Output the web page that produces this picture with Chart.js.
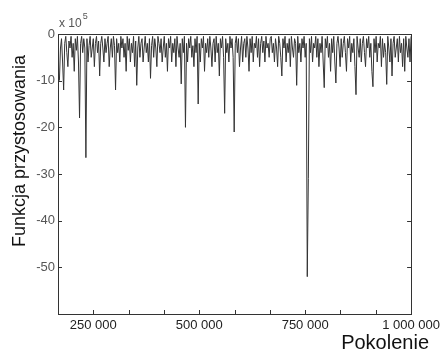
<!DOCTYPE html>
<html>
<head>
<meta charset="utf-8">
<script src="https://cdn.jsdelivr.net/npm/chart.js@4.4.0/dist/chart.umd.min.js"></script>
<style>
  html, body { margin: 0; padding: 0; background: #fff; }
  #wrap { width: 444px; height: 351px; }
</style>
</head>
<body>
<div id="wrap"><canvas id="fitnessChart" width="444" height="351"></canvas></div>
<script>
// generations (in thousands)
const generations = [
  170, 172.5, 175, 177.5, 180, 182.5, 185, 187.5, 190, 192.5, 195, 197.5, 200, 202.5, 205, 207.5, 210, 212.5, 215, 217.5,
  220, 222.5, 225, 227.5, 230, 232.5, 235, 237.5, 240, 242.5, 245, 247.5, 250, 252.5, 255, 257.5, 260, 262.5, 265, 267.5,
  270, 272.5, 275, 277.5, 280, 282.5, 285, 287.5, 290, 292.5, 295, 297.5, 300, 302.5, 305, 307.5, 310, 312.5, 315, 317.5,
  320, 322.5, 325, 327.5, 330, 332.5, 335, 337.5, 340, 342.5, 345, 347.5, 350, 352.5, 355, 357.5, 360, 362.5, 365, 367.5,
  370, 372.5, 375, 377.5, 380, 382.5, 385, 387.5, 390, 392.5, 395, 397.5, 400, 402.5, 405, 407.5, 410, 412.5, 415, 417.5,
  420, 422.5, 425, 427.5, 430, 432.5, 435, 437.5, 440, 442.5, 445, 447.5, 450, 452.5, 455, 457.5, 460, 462.5, 465, 467.5,
  470, 472.5, 475, 477.5, 480, 482.5, 485, 487.5, 490, 492.5, 495, 497.5, 500, 502.5, 505, 507.5, 510, 512.5, 515, 517.5,
  520, 522.5, 525, 527.5, 530, 532.5, 535, 537.5, 540, 542.5, 545, 547.5, 550, 552.5, 555, 557.5, 560, 562.5, 565, 567.5,
  570, 572.5, 575, 577.5, 580, 582.5, 585, 587.5, 590, 592.5, 595, 597.5, 600, 602.5, 605, 607.5, 610, 612.5, 615, 617.5,
  620, 622.5, 625, 627.5, 630, 632.5, 635, 637.5, 640, 642.5, 645, 647.5, 650, 652.5, 655, 657.5, 660, 662.5, 665, 667.5,
  670, 672.5, 675, 677.5, 680, 682.5, 685, 687.5, 690, 692.5, 695, 697.5, 700, 702.5, 705, 707.5, 710, 712.5, 715, 717.5,
  720, 722.5, 725, 727.5, 730, 732.5, 735, 737.5, 740, 742.5, 745, 747.5, 750, 752.5, 755, 757.5, 760, 762.5, 765, 767.5,
  770, 772.5, 775, 777.5, 780, 782.5, 785, 787.5, 790, 792.5, 795, 797.5, 800, 802.5, 805, 807.5, 810, 812.5, 815, 817.5,
  820, 822.5, 825, 827.5, 830, 832.5, 835, 837.5, 840, 842.5, 845, 847.5, 850, 852.5, 855, 857.5, 860, 862.5, 865, 867.5,
  870, 872.5, 875, 877.5, 880, 882.5, 885, 887.5, 890, 892.5, 895, 897.5, 900, 902.5, 905, 907.5, 910, 912.5, 915, 917.5,
  920, 922.5, 925, 927.5, 930, 932.5, 935, 937.5, 940, 942.5, 945, 947.5, 950, 952.5, 955, 957.5, 960, 962.5, 965, 967.5,
  970, 972.5, 975, 977.5, 980, 982.5, 985, 987.5, 990, 992.5, 995, 997.5, 1000
];

// fitness (x 10^5)
const fitness = [
  -10, -3, -1, -6, -12, -2, -0.5, -4, -7, -1.5, -3, -0.5, -5, -2, -8, -1, -3.5, -0.5, -6, -18,
  -2, -0.5, -4, -1, -3, -26.5, -1, -6, -2.5, -0.5, -5, -3, -1, -7, -2, -0.5, -4, -1.5, -9, -2,
  -0.5, -3, -6, -1, -4, -2, -0.5, -7, -3, -1, -5, -0.5, -2.5, -12, -1, -4, -2, -6, -0.5, -3,
  -1, -5, -2, -8, -0.5, -3.5, -1, -6, -2, -4, -0.5, -7, -1.5, -11, -3, -0.5, -5, -2, -1, -6,
  -3, -0.5, -4, -2, -6, -1, -9.5, -2.5, -0.5, -5, -1, -3, -7, -0.5, -2, -4, -1, -6, -3, -0.5,
  -5, -2, -8, -1, -3, -0.5, -6, -2, -4, -1, -7, -0.5, -3, -5, -2, -10.7, -1, -4, -0.5, -20,
  -2, -6, -1, -3, -0.5, -5, -2.5, -7, -1, -4, -0.5, -15, -2, -6, -1, -3, -0.5, -8, -2, -4,
  -1, -5, -0.5, -3, -7, -2, -1, -6, -0.5, -4, -2, -9, -1, -3, -0.5, -5, -17, -1, -4, -2,
  -6, -0.5, -3, -1, -5, -21, -2, -0.5, -4, -1, -7, -3, -0.5, -6, -2, -1, -5, -0.5, -3, -8,
  -1, -4, -0.5, -6, -2, -3, -0.5, -5, -1, -7, -2, -0.5, -4, -1.5, -6, -0.5, -3, -2, -5, -1,
  -0.5, -4, -2, -6, -1, -3, -7, -0.5, -2, -5, -9, -1, -3, -0.5, -6, -2, -4, -1, -7, -0.5,
  -3, -5, -1, -2, -11, -0.5, -4, -2, -6, -1, -3, -0.5, -5, -2, -52, -31, -1, -4, -0.5, -6,
  -2, -3, -0.5, -5, -1, -7, -2, -4, -0.5, -6, -11.5, -1, -3, -0.5, -5, -2, -8, -1, -4, -0.5,
  -6, -10.5, -2, -0.5, -3, -7, -1, -5, -2, -0.5, -4, -8, -1, -3, -0.5, -6, -2, -4, -1, -7,
  -13, -0.5, -3, -5, -1, -6, -2, -0.5, -4, -7, -1, -3, -0.5, -5, -2, -8, -11.3, -1, -4, -0.5,
  -6, -2, -3, -0.5, -7, -1, -5, -2, -4, -10.8, -0.5, -3, -6, -1, -9, -2, -0.5, -5, -3, -1,
  -6, -0.5, -4, -2, -7, -1, -8, -0.5, -3, -5, -1, -6, -0.5
];

const xTickValues = [250, 500, 750, 1000];
const xTickLabels = ['250 000', '500 000', '750 000', '1 000 000'];
const yTickValues = [0, -10, -20, -30, -40, -50, -60];
const yTickLabels = ['0', '-10', '-20', '-30', '-40', '-50', ''];

const xMin = 1000 / 6;
const xMax = 1000;
const xStep = 250 / 3;

const FONT = 'Arial, "Liberation Sans", sans-serif';

const framePlugin = {
  id: 'frame',
  afterDraw(chart) {
    const ctx = chart.ctx;
    const area = chart.chartArea;
    const xs = chart.scales.x;
    const ys = chart.scales.y;
    ctx.save();
    ctx.strokeStyle = '#333';
    ctx.lineWidth = 1;
    ctx.strokeRect(Math.round(area.left) + 0.5, Math.round(area.top) + 0.5,
      Math.round(area.right - area.left), Math.round(area.bottom - area.top));

    // inward tick marks
    ctx.beginPath();
    xs.ticks.forEach(t => {
      const px = Math.round(xs.getPixelForValue(t.value)) + 0.5;
      ctx.moveTo(px, area.bottom);
      ctx.lineTo(px, area.bottom - 4);
    });
    ys.ticks.forEach(t => {
      const py = Math.round(ys.getPixelForValue(t.value)) + 0.5;
      ctx.moveTo(area.left, py);
      ctx.lineTo(area.left + 4, py);
      ctx.moveTo(area.right, py);
      ctx.lineTo(area.right - 4, py);
    });
    ctx.stroke();

    // exponent label
    ctx.fillStyle = '#555';
    ctx.textBaseline = 'alphabetic';
    ctx.textAlign = 'left';
    ctx.font = '12px ' + FONT;
    ctx.fillText('x 10', area.left + 1, 27);
    const w = ctx.measureText('x 10').width;
    ctx.font = '9px ' + FONT;
    ctx.fillText('5', area.left + 2 + w, 19);

    // axis titles
    ctx.fillStyle = '#111';
    ctx.font = '18px ' + FONT;
    ctx.save();
    ctx.translate(20, 151);
    ctx.rotate(-Math.PI / 2);
    ctx.textAlign = 'center';
    ctx.textBaseline = 'middle';
    ctx.fillText('Funkcja przystosowania', 0, 0);
    ctx.restore();

    ctx.font = '20px ' + FONT;
    ctx.textAlign = 'right';
    ctx.textBaseline = 'middle';
    ctx.fillText('Pokolenie', 429, 343);
    ctx.restore();
  }
};

new Chart(document.getElementById('fitnessChart').getContext('2d'), {
  type: 'line',
  data: {
    datasets: [{
      data: generations.map((g, i) => ({ x: g, y: fitness[i] })),
      borderColor: '#333',
      borderWidth: 1,
      pointRadius: 0,
      tension: 0,
      fill: false
    }]
  },
  options: {
    responsive: false,
    animation: false,
    layout: { padding: { top: 34, right: 29, left: 0, bottom: 0 } },
    plugins: { legend: { display: false }, tooltip: { enabled: false } },
    scales: {
      x: {
        type: 'linear',
        min: xMin,
        max: xMax,
        afterBuildTicks(scale) {
          const ticks = [];
          for (let k = 0; k <= 10; k++) ticks.push({ value: xMin + k * xStep });
          scale.ticks = ticks;
        },
        afterFit(scale) { scale.height = 37; },
        grid: { display: false, drawTicks: false },
        border: { display: false },
        ticks: {
          autoSkip: false,
          maxRotation: 0,
          padding: 4,
          color: '#222',
          font: { family: FONT, size: 13 },
          callback(value) {
            const idx = xTickValues.findIndex(v => Math.abs(v - value) < 0.01);
            return idx >= 0 ? xTickLabels[idx] : '';
          }
        }
      },
      y: {
        min: -60,
        max: 0,
        afterBuildTicks(scale) {
          scale.ticks = yTickValues.map(v => ({ value: v }));
        },
        afterFit(scale) { scale.width = 58; },
        grid: { display: false, drawTicks: false },
        border: { display: false },
        ticks: {
          padding: 3,
          color: '#555',
          font: { family: FONT, size: 13 },
          callback(value) {
            const idx = yTickValues.indexOf(value);
            return idx >= 0 ? yTickLabels[idx] : '';
          }
        }
      }
    }
  },
  plugins: [framePlugin]
});
</script>
</body>
</html>
